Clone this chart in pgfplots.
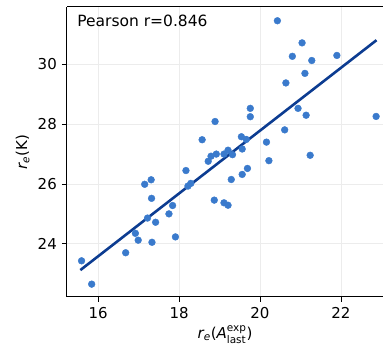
\documentclass[border=0pt]{standalone}
\usepackage{fontspec}
\setmainfont{DejaVu Sans}
\usepackage{pgfplots}
\pgfplotsset{compat=1.18}
\definecolor{ptcol}{RGB}{58,122,204}
\definecolor{lncol}{RGB}{12,60,145}
\begin{document}
\fontsize{15}{17}\selectfont
\begin{tikzpicture}
\begin{axis}[
  scale only axis,
  width=316pt, height=290pt,
  xmin=15.23, xmax=23.04,
  ymin=22.22, ymax=31.92,
  xtick={16,18,20,22}, ytick={24,26,28,30},
  axis y line*=left, axis x line*=box,
  xtick pos=bottom, ytick pos=left,
  tick align=outside,
  major tick length=5pt,
  every tick/.style={black, line width=0.8pt},
  axis line style={black, line width=1pt},
  grid=major,
  major grid style={line width=0.6pt, color=gray!15},
  /pgf/number format/assume math mode=true,
  ticklabel style={font=\fontsize{15}{17}\selectfont},
  xlabel={{\itshape r}\textsubscript{\itshape e}({\itshape A}$^{\mbox{\fontsize{10.5}{11}\selectfont exp}}_{\mbox{\fontsize{10.5}{11}\selectfont last}}$)},
  ylabel={{\itshape r}\textsubscript{\itshape e}(K)},
  label style={font=\fontsize{15}{17}\selectfont},
  xlabel style={yshift=3pt},
  ylabel style={yshift=-2pt},
]
\addplot[only marks, mark=*, mark size=3.4pt, mark options={fill=ptcol, draw=ptcol}] coordinates {
(15.59,23.43) (15.84,22.65) (16.68,23.70) (16.92,24.35) (16.99,24.12)
(17.33,24.05) (17.15,25.99) (17.31,26.14) (17.32,25.52) (17.22,24.86)
(17.42,24.72) (17.75,25.00) (17.84,25.28) (17.91,24.23) (18.17,26.45)
(18.22,25.93) (18.29,26.02) (18.57,27.48) (18.89,28.09) (18.72,26.76)
(18.79,26.93) (18.92,27.00) (18.87,25.46) (19.11,27.00) (19.21,27.13)
(19.32,26.98) (19.11,25.37) (19.21,25.29) (19.29,26.15) (19.54,27.58)
(19.56,27.17) (19.66,27.49) (19.56,26.32) (19.69,26.52) (19.76,28.53)
(19.76,28.25) (20.16,27.40) (20.22,26.78) (20.43,31.46) (21.04,30.72)
(20.80,30.27) (21.28,30.13) (21.90,30.30) (21.11,29.70) (20.64,29.38)
(20.94,28.53) (21.14,28.30) (22.87,28.26) (20.61,27.81) (21.24,26.96)
};
\addplot[lncol, line width=2.6pt, no marks] coordinates {(15.56,23.12) (22.88,30.81)};
\node[anchor=north west, inner sep=0pt, font=\fontsize{15.5}{17}\selectfont] at (rel axis cs:0.032,0.972) {Pearson r=0.846};
\end{axis}
\pgfresetboundingbox
\path (current axis.south west) ++(-67pt,-53pt) rectangle (current axis.north east) ++(0pt,7pt);
\end{tikzpicture}
\end{document}
